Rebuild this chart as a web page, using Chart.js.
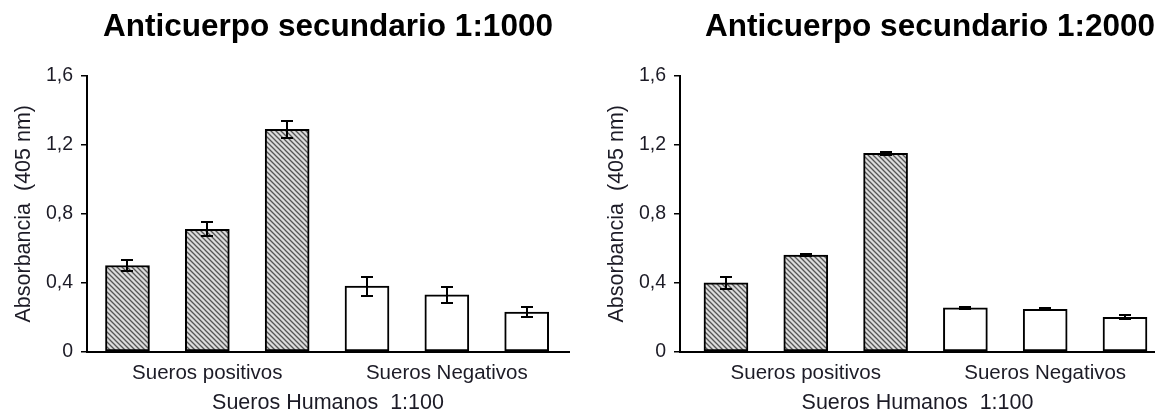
<!DOCTYPE html>
<html>
<head>
<meta charset="utf-8">
<script src="https://cdn.jsdelivr.net/npm/chart.js@4/dist/chart.umd.min.js"></script>
<style>
  html, body { margin: 0; padding: 0; background: #fff; overflow: hidden; width: 1155px; height: 418px; }
  canvas { position: absolute; top: 0; }
  #c1000 { left: 0; }
  #c2000 { left: 593px; }
</style>
</head>
<body>
<canvas id="c1000" width="577" height="418"></canvas>
<canvas id="c2000" width="562" height="418"></canvas>
<script>
// Serum groups shown under the x axis; each bar belongs to one group
const groupLabels = ['Sueros positivos', 'Sueros Negativos'];
const barGroup = [0, 0, 0, 1, 1, 1];
const yTicks = [0, 0.4, 0.8, 1.2, 1.6];
const yTitle = 'Absorbancia  (405 nm)';
const xTitle = 'Sueros Humanos  1:100';

// Secondary antibody 1:1000
const title1000 = 'Anticuerpo secundario 1:1000';
const values1000 = [0.50, 0.71, 1.29, 0.38, 0.33, 0.23];
const errors1000 = [0.03, 0.04, 0.05, 0.055, 0.045, 0.027];

// Secondary antibody 1:2000
const title2000 = 'Anticuerpo secundario 1:2000';
const values2000 = [0.40, 0.56, 1.15, 0.255, 0.245, 0.20];
const errors2000 = [0.035, 0.006, 0.008, 0.006, 0.006, 0.01];

const FONT = "'Liberation Sans', Arial, sans-serif";
const TEXT = '#1c1b26';

// Diagonal hatch used for the positive sera
function hatchPattern(ctx) {
  const s = 5;
  const tile = document.createElement('canvas');
  tile.width = tile.height = s;
  const g = tile.getContext('2d');
  g.fillStyle = '#dcdcdc';
  g.fillRect(0, 0, s, s);
  g.strokeStyle = '#555555';
  g.lineWidth = 1.3;
  g.beginPath();
  g.moveTo(-1, -1); g.lineTo(s + 1, s + 1);
  g.moveTo(-1, s - 1); g.lineTo(1, s + 1);
  g.moveTo(s - 1, -1); g.lineTo(s + 1, 1);
  g.stroke();
  return ctx.createPattern(tile, 'repeat');
}

// Error bars (mean ± error) drawn through the value scale
const errorBars = {
  id: 'errorBars',
  afterDatasetsDraw(chart, args, opts) {
    const ctx = chart.ctx;
    const y = chart.scales.y;
    const meta = chart.getDatasetMeta(0);
    const data = chart.data.datasets[0].data;
    ctx.save();
    ctx.strokeStyle = '#000';
    ctx.lineWidth = 2;
    meta.data.forEach((bar, i) => {
      const v = data[i].y, e = opts.errors[i];
      const yt = Math.round(y.getPixelForValue(v + e));
      const yb = Math.round(y.getPixelForValue(v - e));
      const x = Math.round(bar.x);
      const w = opts.capWidth / 2;
      ctx.beginPath();
      ctx.moveTo(x, yt); ctx.lineTo(x, yb);
      ctx.moveTo(x - w, yt); ctx.lineTo(x + w, yt);
      ctx.moveTo(x - w, yb); ctx.lineTo(x + w, yb);
      ctx.stroke();
    });
    ctx.restore();
  }
};

function groupCenter(g) {
  const idx = barGroup.map((b, i) => b === g ? i : -1).filter(i => i >= 0);
  return idx.reduce((a, b) => a + b, 0) / idx.length;
}

function makeChart(id, title, values, errors, xMin, xMax, titleAlign, padRight) {
  const canvas = document.getElementById(id);
  const ctx = canvas.getContext('2d');
  const hatch = hatchPattern(ctx);
  return new Chart(ctx, {
    type: 'bar',
    data: {
      datasets: [{
        data: values.map((v, i) => ({ x: i, y: v })),
        backgroundColor: barGroup.map(g => g === 0 ? hatch : '#ffffff'),
        borderColor: '#000',
        borderWidth: 2,
        borderSkipped: false,
        barThickness: 44
      }]
    },
    options: {
      responsive: false,
      animation: false,
      devicePixelRatio: 1,
      layout: { padding: { left: 0, right: padRight, top: 0, bottom: 0 } },
      plugins: {
        legend: { display: false },
        tooltip: { enabled: false },
        title: {
          display: true,
          text: title,
          fullSize: false,
          align: titleAlign,
          color: '#000',
          font: { family: FONT, size: 31.5, weight: 'bold' },
          padding: { top: 8, bottom: 30 }
        },
        errorBars: { errors: errors, capWidth: 12 }
      },
      scales: {
        x: {
          type: 'linear',
          min: xMin,
          max: xMax,
          offset: false,
          grid: { display: false, drawTicks: false, offset: false },
          border: { display: true, color: '#000', width: 2 },
          afterBuildTicks: s => { s.ticks = groupLabels.map((_, g) => ({ value: groupCenter(g) })); },
          ticks: {
            autoSkip: false,
            maxRotation: 0,
            padding: 11,
            color: TEXT,
            font: { family: FONT, size: 20.5, lineHeight: 1.0 },
            callback: (v, i) => groupLabels[i]
          },
          title: {
            display: true,
            text: xTitle,
            color: TEXT,
            font: { family: FONT, size: 21.5 },
            padding: { top: -4, bottom: 2 }
          }
        },
        y: {
          min: 0,
          max: 1.6,
          afterBuildTicks: s => { s.ticks = yTicks.map(v => ({ value: v })); },
          afterFit: s => { s.width = 87; },
          grid: { drawOnChartArea: false, drawTicks: true, tickLength: 6, color: '#000', lineWidth: 1.5 },
          border: { display: true, color: '#000', width: 2 },
          ticks: {
            padding: 8,
            color: TEXT,
            font: { family: FONT, size: 19.5 },
            callback: v => String(+v.toFixed(1)).replace('.', ',')
          },
          title: {
            display: true,
            text: yTitle,
            color: TEXT,
            font: { family: FONT, size: 21.5 },
            padding: { top: 11, bottom: 4 }
          }
        }
      }
    },
    plugins: [errorBars]
  });
}

makeChart('c1000', title1000, values1000, errors1000, -0.507, 5.53, 'center', 8);
makeChart('c2000', title2000, values2000, errors2000, -0.576, 5.376, 'end', 0);
</script>
</body>
</html>
